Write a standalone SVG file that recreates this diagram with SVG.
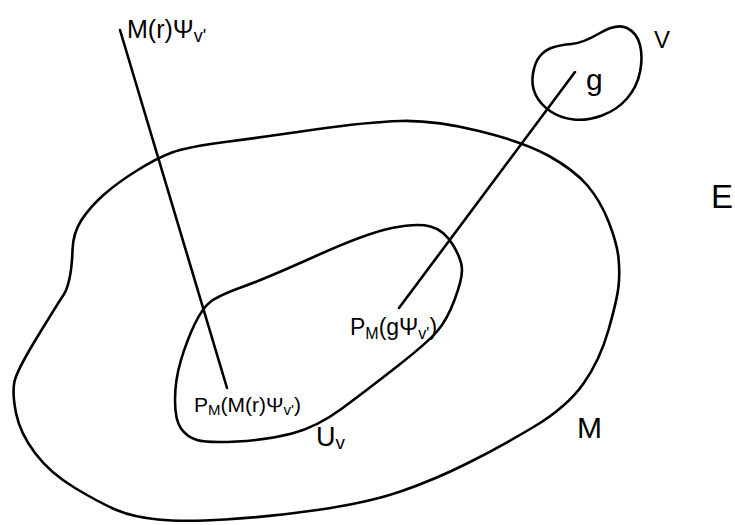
<svg xmlns="http://www.w3.org/2000/svg" width="735" height="525" viewBox="0 0 735 525">
<style>
.c{fill:none;stroke:#000;stroke-width:2.6;stroke-linecap:round;stroke-linejoin:round}
.t{font-family:"Liberation Sans","DejaVu Sans",sans-serif;fill:#000}
</style>
<rect width="735" height="525" fill="#fff"/>
<g id="M">
<path class="c" d="M 400.5,121 Q 434,120 479,131 Q 524,142 549,156 Q 574,170 587,185 Q 600,200 608.5,221.5 Q 617,243 618.5,258 Q 620,273 618.5,286.5 Q 617,300 608.5,330 Q 600,360 583.5,383.5 Q 567,407 533.5,427 Q 500,447 467,463.5 Q 434,480 400.5,491.5 Q 367,503 317,510 Q 267,517 225,519.5 Q 183,522 158,519.5 Q 133,517 116.5,510 Q 100,503 75,488 Q 50,473 35,453 Q 20,433 16,413 Q 12,393 14.5,381.5 Q 17,370 38.5,335 Q 60,300 63.5,295 Q 67,290 69.5,278.5 Q 72,267 72.5,250 Q 73,233 81.5,220 Q 90,207 103.5,195 Q 117,183 137,170.5 Q 157,158 172,152.5 Q 187,147 225,142 Q 263,137 315,129.5 Q 367,122 400.5,121 Z"/>
<text class="t" x="577" y="438" font-size="30">M</text>
</g>
<g id="Uv">
<path class="c" d="M 181,428.5 Q 175,420 175,400 Q 175,380 181,360 Q 187,340 195,323.5 Q 203,307 211.5,301 Q 220,295 243.5,286.5 Q 267,278 317,255.5 Q 367,233 392,228 Q 417,223 430.5,226.5 Q 444,230 453,245 Q 462,260 462,270 Q 462,280 454.5,300 Q 447,320 437,331.5 Q 427,343 397,366.5 Q 367,390 342,408.5 Q 317,427 292,433.5 Q 267,440 237,441.5 Q 207,443 197,440 Q 187,437 181,428.5 Z"/>
<text class="t" x="316" y="446" font-size="27">U<tspan font-size="19" dy="3">v</tspan></text>
</g>
<g id="V">
<path class="c" d="M 571.5,44 Q 583,43 600,33 Q 617,23 627,28 Q 637,33 640,45 Q 643,57 640,72 Q 637,87 627,98.5 Q 617,110 602,115.5 Q 587,121 573.5,119.5 Q 560,118 550,111 Q 540,104 535.5,94.5 Q 531,85 533,73.5 Q 535,62 540,56 Q 545,50 552.5,47.5 Q 560,45 571.5,44 Z"/>
<text class="t" x="654" y="48" font-size="24">V</text>
<text class="t" x="586" y="90" font-size="30">g</text>
</g>
<g id="E">
<text class="t" x="711" y="208" font-size="33">E</text>
</g>
<g id="connectors">
<line class="c" x1="120" y1="30" x2="227" y2="388"/>
<line class="c" x1="575" y1="72" x2="399" y2="308"/>
</g>
<g id="labels">
<text class="t" x="127" y="38" font-size="25">M(r)Ψ<tspan font-size="18" dy="4">v'</tspan></text>
<text class="t" x="194" y="412" font-size="21">P<tspan font-size="15" dy="3">M</tspan><tspan dy="-3">(M(r)Ψ</tspan><tspan font-size="15" dy="3">v'</tspan><tspan dy="-3">)</tspan></text>
<text class="t" x="350" y="335" font-size="23">P<tspan font-size="16" dy="4">M</tspan><tspan dy="-4">(gΨ</tspan><tspan font-size="16" dy="4">v'</tspan><tspan dy="-4">)</tspan></text>
</g>
</svg>
